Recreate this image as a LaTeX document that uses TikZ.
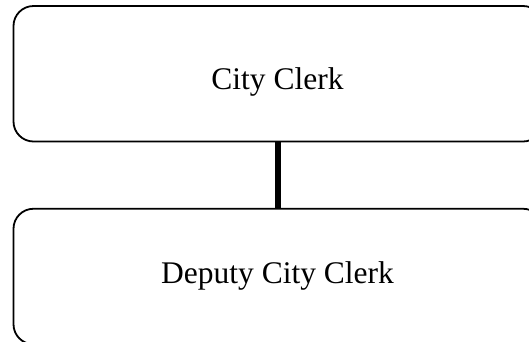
\documentclass[tikz,border=0pt]{standalone}
\usepackage{fontspec}
\setmainfont{Liberation Serif}
\begin{document}
\begin{tikzpicture}[x=1pt,y=-1pt,
  box/.style={draw=black, line width=1.8pt, rounded corners=20pt, minimum width=529.5pt, minimum height=135.5pt, inner sep=0pt, fill=white},
  lbl/.style={anchor=base, inner sep=0pt, font=\fontsize{31.5}{36}\selectfont},
  link/.style={line width=6pt}]
\useasboundingbox (0,0) rectangle (529,341);
\clip (0,0) rectangle (529,341);
\node[box] (top) at (278.25,73.75) {};
\node[box] (bottom) at (278.25,276.5) {};
\draw[link] (top.south) -- (bottom.north);
\node[lbl] (t1) at (277.5,89) {City Clerk};
\node[lbl] (t2) at (277.5,283) {Deputy City Clerk};
\end{tikzpicture}
\end{document}
